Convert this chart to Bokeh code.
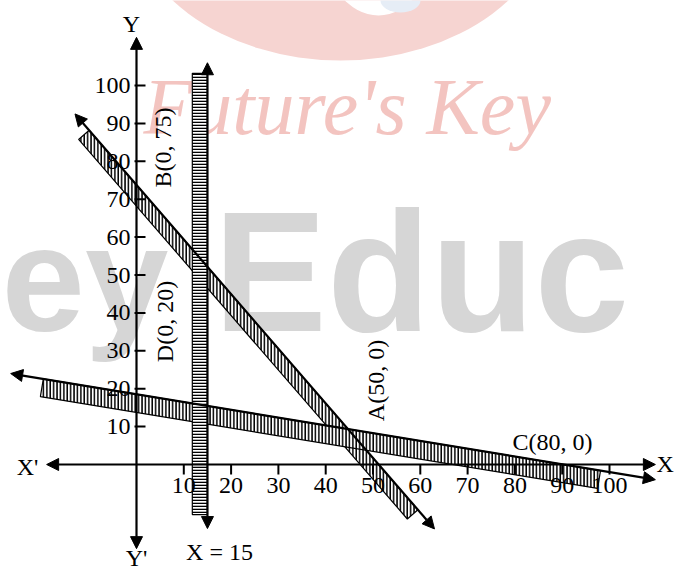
import math
from bokeh.plotting import figure
from bokeh.models import Arrow, NormalHead, Range1d
from bokeh.core.properties import value
from bokeh.embed import file_html
from bokeh.resources import INLINE

# ---------------- data ----------------
x_ticks = [10, 20, 30, 40, 50, 60, 70, 80, 90, 100]
y_ticks = [10, 20, 30, 40, 50, 60, 70, 80, 90, 100]

# line through B(0, 75) and A(50, 0) as drawn
line1_x = [-13.0, 63.0]
line1_y = [92.5, -17.0]
band1_x = [-10.0, 59.5]

# line through D(0, 20) and C(80, 0) as drawn
line2_x = [-26.6, 109.7]
line2_y = [24.0, -4.0]
band2_x = [-19.7, 98.1]

# line X = 15
line3_x = [15.0, 15.0]
line3_y = [-16.9, 106.0]
band3_y = [-13.2, 103.2]
band3_w = 3.2

axis_x = [-19.0, 109.7]
axis_y = [-22.2, 112.7]

point_labels = ["B(0, 75)", "D(0, 20)", "A(50, 0)", "C(80, 0)"]

# ---------------- layout ----------------
W, H = 674, 571
SX, SY = 4.73, 3.79          # pixels per unit
OX, OY = 136, 464            # canvas position of origin

def d(px, py):
    """canvas pixel -> data"""
    return (px - OX) / SX, (OY - py) / SY

p = figure(width=W, height=H, output_backend="svg", toolbar_location=None,
           x_range=Range1d(-OX / SX, (W - OX) / SX),
           y_range=Range1d(-(H - OY) / SY, OY / SY),
           min_border=0)
p.xaxis.visible = False
p.yaxis.visible = False
p.grid.visible = False
p.outline_line_color = None
p.background_fill_color = "white"
p.border_fill_color = "white"

SERIF = value("'Liberation Serif', 'Times New Roman', serif")
SANS = value("'Liberation Sans', Arial, sans-serif")
FS = "24px"

# ---------------- watermarks ----------------
cx, cy = d(340, -100)
p.ellipse(x=[cx], y=[cy], width=[430 / SX], height=[320 / SY],
          fill_color="#f6d4d1", line_color=None)
cx, cy = d(378, -60)
p.ellipse(x=[cx], y=[cy], width=[112 / SX], height=[150 / SY],
          fill_color="white", line_color=None)
cx, cy = d(400, 0)
p.ellipse(x=[cx], y=[cy], width=[40 / SX], height=[24 / SY],
          fill_color="#e6edf6", line_color=None)

wx, wy = d(1, 330)
p.text(x=[wx], y=[wy], text=["ey"], text_align="left", text_baseline="bottom",
       text_font=SANS, text_font_style="bold",
       text_font_size="150px", text_color="#d6d6d6", y_offset=[32])
wx, wy = d(213, 176)
p.text(x=[wx], y=[wy], text=["Educ"], text_align="left", text_baseline="top",
       text_font=SANS, text_font_style="bold",
       text_font_size="170px", text_color="#d6d6d6")
wx, wy = d(143, 62)
p.text(x=[wx], y=[wy], text=["Future's Key"], text_align="left", text_baseline="top",
       text_font=SERIF, text_font_style="italic",
       text_font_size="80px", text_color="#f3c4c0")

# ---------------- bands ----------------
def band(lx, ly, xs, off):
    slope = (ly[1] - ly[0]) / (lx[1] - lx[0])
    ys = [ly[0] + slope * (x - lx[0]) for x in xs]
    dxs = SX * (xs[1] - xs[0])
    dys = -SY * (ys[1] - ys[0])
    L = math.hypot(dxs, dys)
    ux, uy = dxs / L, dys / L
    ddx = (-uy * off) / SX
    ddy = -(ux * off) / SY
    return ([xs[0], xs[1], xs[1] + ddx, xs[0] + ddx],
            [ys[0], ys[1], ys[1] + ddy, ys[0] + ddy])

hatch = dict(fill_color="white", line_color="black", line_width=1.2,
             hatch_color="black", hatch_weight=1.6)

bx, by = band(line1_x, line1_y, band1_x, 14)
p.patch(bx, by, hatch_pattern="vertical_line", hatch_scale=3.4, **hatch)
bx, by = band(line2_x, line2_y, band2_x, 18)
p.patch(bx, by, hatch_pattern="vertical_line", hatch_scale=3.4, **hatch)
p.quad(left=[line3_x[0] - band3_w], right=[line3_x[0]],
       bottom=[band3_y[0]], top=[band3_y[1]],
       hatch_pattern="horizontal_line", hatch_scale=3.0, **hatch)

# ---------------- lines with arrows ----------------
def arrow(xs, ys, lw=2.2):
    head = lambda: NormalHead(size=12, fill_color="black", line_color="black", line_width=1)
    p.add_layout(Arrow(start=head(), end=head(), x_start=xs[0], y_start=ys[0],
                       x_end=xs[1], y_end=ys[1], line_width=lw, line_color="black"))

arrow(line1_x, line1_y)
arrow(line2_x, line2_y)
arrow(line3_x, line3_y)
arrow(axis_x, [0, 0])
arrow([0, 0], axis_y)

# ---------------- ticks and tick labels ----------------
p.segment(x0=x_ticks, y0=[0] * len(x_ticks), x1=x_ticks,
          y1=[-10 / SY] * len(x_ticks), line_color="black", line_width=2)
p.segment(x0=[-2 / SX] * len(y_ticks), y0=y_ticks, x1=[9 / SX] * len(y_ticks),
          y1=y_ticks, line_color="black", line_width=2)
p.text(x=x_ticks, y=[-13 / SY] * len(x_ticks), text=[str(t) for t in x_ticks],
       text_align="center", text_baseline="top", text_font=SERIF,
       text_font_size=FS, text_color="black")
p.text(x=[-6 / SX] * len(y_ticks), y=y_ticks, text=[str(t) for t in y_ticks],
       text_align="right", text_baseline="middle", text_font=SERIF,
       text_font_size=FS, text_color="black")

# ---------------- axis names ----------------
def label(txt, px, py, align="center", baseline="middle", angle=0.0):
    x, y = d(px, py)
    p.text(x=[x], y=[y], text=[txt], text_align=align, text_baseline=baseline,
           angle=angle, text_font=SERIF, text_font_size=FS, text_color="black")

label("Y", 131, 23)
label("Y'", 136, 570, baseline="bottom")
label("X'", 27, 466)
label("X", 656, 463, align="left")
label("X = 15", 219, 551)

half_pi = math.pi / 2
label(point_labels[0], 162, 147, angle=half_pi)
label(point_labels[1], 164, 321, angle=half_pi)
label(point_labels[2], 375, 380, angle=half_pi)
label(point_labels[3], 552, 441)

open("out.html", "w").write(file_html(p, INLINE))
